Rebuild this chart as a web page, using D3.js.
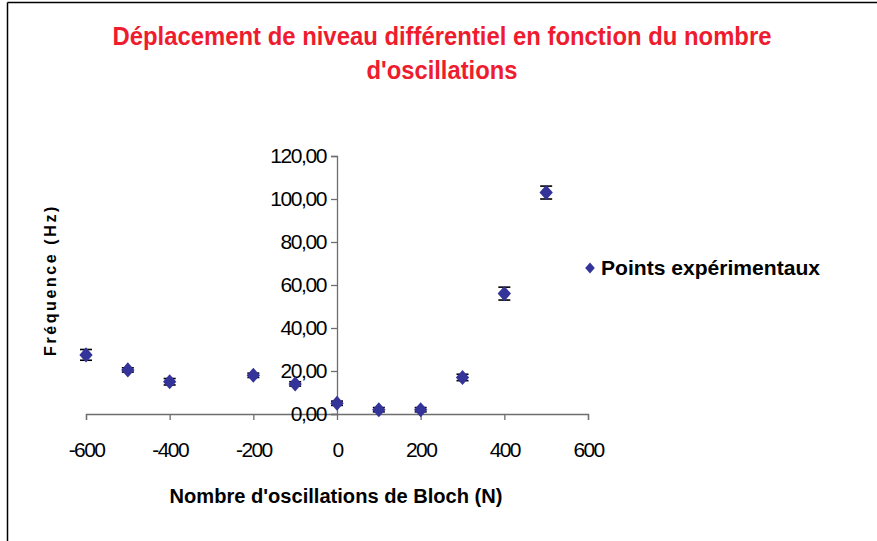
<!DOCTYPE html>
<html>
<head>
<meta charset="utf-8">
<script src="https://cdn.jsdelivr.net/npm/d3@7"></script>
<style>
  html, body { margin: 0; padding: 0; background: #fff; }
  svg { display: block; }
  text { font-family: "Liberation Sans", Arial, sans-serif; }
</style>
</head>
<body>
<svg id="chart" width="877" height="541"></svg>
<script>
// Bloch oscillation count (N)
const oscillations = [-600, -500, -400, -200, -100, 0, 100, 200, 300, 400, 500];
// Measured differential level shift (Hz)
const frequencies = [27.5, 20.5, 15, 18, 14, 5, 2, 2, 17, 56, 103];
// Uncertainty on each measurement (Hz)
const uncertainties = [2.5, 1, 1.5, 1, 1, 1, 1, 1, 1.5, 3, 3];

const xTicks = [-600, -400, -200, 0, 200, 400, 600];
const yTicks = [0, 20, 40, 60, 80, 100, 120];

const titleLines = ["Déplacement de niveau différentiel en fonction du nombre", "d'oscillations"];
const xTitle = "Nombre d'oscillations de Bloch (N)";
const yTitle = "Fréquence (Hz)";
const legendLabel = "Points expérimentaux";

const svg = d3.select("#chart");

// Outer frame (top and left edges visible)
svg.append("line").attr("x1", 7.5).attr("x2", 877).attr("y1", 2.5).attr("y2", 2.5)
  .attr("stroke", "#000").attr("stroke-width", 1.5);
svg.append("line").attr("x1", 7.5).attr("x2", 7.5).attr("y1", 2.5).attr("y2", 541)
  .attr("stroke", "#000").attr("stroke-width", 1.5);

const x = d3.scaleLinear().domain([-600, 600]).range([86, 588]);
const y = d3.scaleLinear().domain([0, 120]).range([414, 156]);

const frFmt = v => d3.format(".2f")(v).replace(".", ",");

// Title
const titleY = [45, 79];
const titleW = [659, 151];
titleLines.forEach((t, i) => {
  svg.append("text")
    .attr("x", 442).attr("y", titleY[i])
    .attr("text-anchor", "middle")
    .attr("fill", "#ee1c2e")
    .attr("font-weight", "bold")
    .attr("font-size", 25)
    .attr("textLength", titleW[i])
    .attr("lengthAdjust", "spacingAndGlyphs")
    .text(t);
});

// X axis at y = 0
const xAxis = svg.append("g")
  .attr("transform", `translate(0,${y(0)})`)
  .call(d3.axisBottom(x).tickValues(xTicks).tickSize(6).tickPadding(22).tickFormat(d => String(d)));
xAxis.select(".domain").attr("stroke", "#6e6e6e").attr("stroke-width", 1.3);
xAxis.selectAll(".tick line").attr("stroke", "#6e6e6e").attr("stroke-width", 1.3);
xAxis.selectAll(".tick text")
  .attr("font-size", 21).attr("fill", "#000").attr("letter-spacing", "-1.6")
  .attr("font-family", "Liberation Sans, Arial, sans-serif");

// Y axis at x = 0
const yAxis = svg.append("g")
  .attr("transform", `translate(${x(0)},0)`)
  .call(d3.axisLeft(y).tickValues(yTicks).tickSize(6).tickPadding(5).tickFormat(frFmt));
yAxis.select(".domain").attr("stroke", "#6e6e6e").attr("stroke-width", 1.3);
yAxis.selectAll(".tick line").attr("stroke", "#6e6e6e").attr("stroke-width", 1.3);
yAxis.selectAll(".tick text")
  .attr("font-size", 21).attr("fill", "#000").attr("letter-spacing", "-1.4")
  .attr("font-family", "Liberation Sans, Arial, sans-serif");

// Axis titles
svg.append("text")
  .attr("x", 336).attr("y", 503)
  .attr("text-anchor", "middle")
  .attr("font-weight", "bold").attr("font-size", 20)
  .attr("textLength", 333).attr("lengthAdjust", "spacingAndGlyphs")
  .text(xTitle);

svg.append("text")
  .attr("transform", "translate(56,280) rotate(-90)")
  .attr("text-anchor", "middle")
  .attr("font-weight", "bold").attr("font-size", 16)
  .attr("letter-spacing", "2.6")
  .text(yTitle);

// Error bars
const pts = oscillations.map((n, i) => ({ n, f: frequencies[i], e: uncertainties[i] }));
const eb = svg.append("g").attr("stroke", "#000").attr("stroke-width", 1.6);
pts.forEach(p => {
  const cx = x(p.n);
  eb.append("line").attr("x1", cx).attr("x2", cx).attr("y1", y(p.f - p.e)).attr("y2", y(p.f + p.e));
  [p.f - p.e, p.f + p.e].forEach(v => {
    eb.append("line").attr("x1", cx - 6).attr("x2", cx + 6).attr("y1", y(v)).attr("y2", y(v));
  });
});

// Diamond markers (slightly taller than wide)
const diamond = d3.symbol().type(d3.symbolDiamond2).size(125);
svg.append("g").selectAll("path").data(pts).join("path")
  .attr("d", diamond)
  .attr("transform", d => `translate(${x(d.n)},${y(d.f)}) scale(0.95,1.08)`)
  .attr("fill", "#333399");

// Legend
svg.append("path")
  .attr("d", d3.symbol().type(d3.symbolDiamond2).size(65))
  .attr("transform", "translate(590,268) scale(0.95,1.08)")
  .attr("fill", "#333399");
svg.append("text")
  .attr("x", 601).attr("y", 275)
  .attr("font-weight", "bold").attr("font-size", 20)
  .attr("textLength", 219).attr("lengthAdjust", "spacingAndGlyphs")
  .text(legendLabel);
</script>
</body>
</html>
